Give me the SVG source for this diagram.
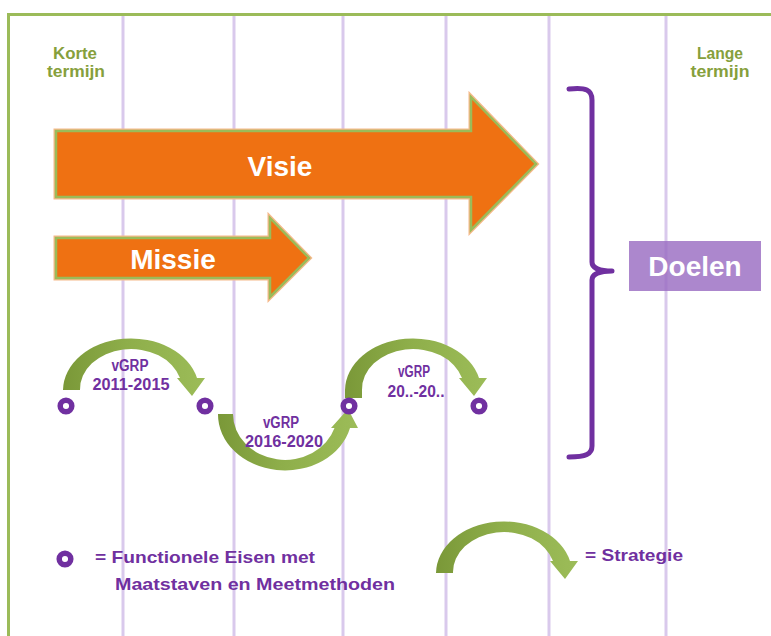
<svg xmlns="http://www.w3.org/2000/svg" width="771" height="636" viewBox="0 0 771 636">
<defs>
<linearGradient id="grn" x1="0" y1="0" x2="1" y2="0">
<stop offset="0" stop-color="#7a9838"/>
<stop offset="0.45" stop-color="#8eae4a"/>
<stop offset="1" stop-color="#9cbc58"/>
</linearGradient>
<style>
.vl{stroke:#d9c9ec;stroke-width:3;fill:none}
.term{font-family:"Liberation Sans",Arial,sans-serif;font-weight:bold;font-size:17px;fill:#86a03c;text-anchor:middle}
.big{stroke:#9bbb59;stroke-width:2.5;fill:#ef7112;stroke-linejoin:miter}
.halo{stroke:#f6b98a;stroke-width:5;fill:none}
.bt{font-family:"Liberation Sans",Arial,sans-serif;font-weight:bold;font-size:28px;fill:#ffffff;text-anchor:middle}
.ring{fill:none;stroke:#7030a0;stroke-width:5.5}
.curve{fill:url(#grn)}
.lbl{font-family:"Liberation Sans",Arial,sans-serif;font-weight:bold;font-size:16px;fill:#7030a0;text-anchor:middle}
.leg{font-family:"Liberation Sans",Arial,sans-serif;font-weight:bold;font-size:17px;fill:#7030a0}
</style>
</defs>
<rect x="0" y="0" width="771" height="636" fill="#ffffff"/>
<g id="frame">
<path d="M8.5,636 L8.5,14.5 L771,14.5" fill="none" stroke="#9bbb59" stroke-width="3"/>
<line class="vl" x1="123" y1="16" x2="123" y2="636"/>
<line class="vl" x1="234" y1="16" x2="234" y2="636"/>
<line class="vl" x1="343" y1="16" x2="343" y2="636"/>
<line class="vl" x1="446" y1="16" x2="446" y2="636"/>
<line class="vl" x1="549" y1="16" x2="549" y2="636"/>
<line class="vl" x1="666" y1="16" x2="666" y2="636"/>
</g>
<g id="korte">
<text class="term" x="75" y="59" textLength="44" lengthAdjust="spacingAndGlyphs">Korte</text>
<text class="term" x="76" y="77" textLength="58" lengthAdjust="spacingAndGlyphs">termijn</text>
</g>
<g id="lange">
<text class="term" x="720" y="59" textLength="46" lengthAdjust="spacingAndGlyphs">Lange</text>
<text class="term" x="720" y="77" textLength="59" lengthAdjust="spacingAndGlyphs">termijn</text>
</g>
<g id="visie">
<path class="halo" d="M56,131 L471,131 L471,97 L536,164 L471,230 L471,197 L56,197 Z"/>
<path class="big" d="M56,131 L471,131 L471,97 L536,164 L471,230 L471,197 L56,197 Z"/>
<text class="bt" x="280" y="176">Visie</text>
</g>
<g id="missie">
<path class="halo" d="M56,238 L270,238 L270,218 L309,258 L270,297 L270,278 L56,278 Z"/>
<path class="big" d="M56,238 L270,238 L270,218 L309,258 L270,297 L270,278 L56,278 Z"/>
<text class="bt" x="173" y="269">Missie</text>
</g>
<g id="bracket">
<path d="M569,89 C586,87 592,90 592,100 L592,262 C592,268 600,271 612,271 C600,271 592,274 592,280 L592,446 C592,454 586,457 569,457" fill="none" stroke="#7030a0" stroke-width="5" stroke-linecap="round" stroke-linejoin="round"/>
</g>
<g id="doelen">
<rect x="629" y="241" width="132" height="50" fill="#9a6cc2" fill-opacity="0.82"/>
<text class="bt" x="695" y="276" font-size="29">Doelen</text>
</g>
<g id="connectors">
<path class="curve" d="M63,390 A68,52 0 0 1 197,378 L205,378 L192,396 L177,378 L180,378 A51,40 0 0 0 80,390 Z"/>
<path class="curve" d="M218,414 A67,56 0 0 0 350,428 L358,428 L348,409 L331,428 L334.5,428 A52,46 0 0 1 233,414 Z"/>
<path class="curve" d="M345,398 L345,390 A68,52 0 0 1 479,378 L487,378 L474,396 L459,378 L462,378 A51,40 0 0 0 362,390 L362,398 Z"/>
</g>
<g id="fe1"><circle class="ring" cx="66" cy="406" r="5.8"/></g>
<g id="fe2"><circle class="ring" cx="205" cy="406" r="5.8"/></g>
<g id="fe3"><circle class="ring" cx="349" cy="406" r="5.8"/></g>
<g id="fe4"><circle class="ring" cx="479" cy="406" r="5.8"/></g>
<g id="label-vgrp1">
<text class="lbl" x="130" y="371" textLength="37" lengthAdjust="spacingAndGlyphs">vGRP</text>
<text class="lbl" x="131" y="390" textLength="77" lengthAdjust="spacingAndGlyphs">2011-2015</text>
</g>
<g id="label-vgrp2">
<text class="lbl" x="281" y="428" textLength="36" lengthAdjust="spacingAndGlyphs">vGRP</text>
<text class="lbl" x="284" y="447" textLength="78" lengthAdjust="spacingAndGlyphs">2016-2020</text>
</g>
<g id="label-vgrp3">
<text class="lbl" x="414" y="377" textLength="32" lengthAdjust="spacingAndGlyphs">vGRP</text>
<text class="lbl" x="416" y="397" textLength="57" lengthAdjust="spacingAndGlyphs">20..-20..</text>
</g>
<g id="legend-fe">
<circle class="ring" cx="65" cy="559" r="5.8"/>
<text class="leg" x="95" y="563" textLength="220" lengthAdjust="spacingAndGlyphs">= Functionele Eisen met</text>
<text class="leg" x="115" y="590" textLength="280" lengthAdjust="spacingAndGlyphs">Maatstaven en Meetmethoden</text>
</g>
<g id="legend-strategie">
<path class="curve" transform="translate(373,183)" d="M63,390 A68,52 0 0 1 197,378 L205,378 L192,396 L177,378 L180,378 A51,40 0 0 0 80,390 Z"/>
<text class="leg" x="585" y="561" textLength="98" lengthAdjust="spacingAndGlyphs">= Strategie</text>
</g>
</svg>
